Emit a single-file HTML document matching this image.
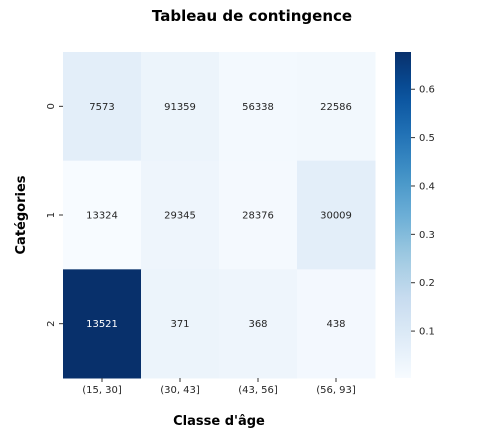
<!DOCTYPE html>
<html><head><meta charset="utf-8"><style>
body{margin:0;background:#fff;font-family:"Liberation Sans","DejaVu Sans",sans-serif}
svg text{font-family:"DejaVu Sans","Liberation Sans",sans-serif}
</style></head><body>
<svg id="chart" width="504" height="432">
<text x="252" y="21" text-anchor="middle" font-size="15" font-weight="bold" fill="#000">Tableau de contingence</text>
<text x="219" y="425" text-anchor="middle" font-size="13" font-weight="bold" fill="#000">Classe d'âge</text>
<text transform="translate(25,215) rotate(-90)" text-anchor="middle" font-size="13" font-weight="bold" fill="#000">Catégories</text>
<g id="cells"></g>
<g id="ticks"></g>
<defs><linearGradient id="cbgrad" x1="0" y1="1" x2="0" y2="0"></linearGradient></defs>
<rect x="395" y="52" width="16" height="326" fill="url(#cbgrad)"/>
</svg>
<script>
const rowLabels=["0","1","2"];
const colLabels=["(15, 30]","(30, 43]","(43, 56]","(56, 93]"];
const counts=[[7573,91359,56338,22586],[13324,29345,28376,30009],[13521,371,368,438]];
const shares=[[0.07,0.04,0.015,0.02],[0.004,0.035,0.013,0.07],[0.677,0.04,0.035,0.018]];
const cbTicks=[0.1,0.2,0.3,0.4,0.5,0.6];
const vmin=0.003,vmax=0.677;
const blues=["#f7fbff","#deebf7","#c6dbef","#9ecae1","#6baed6","#4292c6","#2171b5","#08519c","#08306b"];
function hex(c){return [1,3,5].map(i=>parseInt(c.substr(i,2),16));}
function cmap(t){t=Math.max(0,Math.min(1,t));const p=t*8,i=Math.min(7,Math.floor(p)),f=p-i;const a=hex(blues[i]),b=hex(blues[i+1]);return "rgb("+a.map((v,k)=>Math.round(v+(b[k]-v)*f)).join(",")+")";}
const X0=63,Y0=52,W=312,H=326,cw=W/colLabels.length,ch=H/rowLabels.length;
const xs=j=>X0+j*cw, ys=i=>Y0+i*ch;
const cbY=v=>Y0+H-(v-vmin)/(vmax-vmin)*H;
const NS="http://www.w3.org/2000/svg";
const cells=document.getElementById("cells"),ticks=document.getElementById("ticks");
function mk(tag,attrs,parent){const e=document.createElementNS(NS,tag);for(const k in attrs)e.setAttribute(k,attrs[k]);parent.appendChild(e);return e;}
rowLabels.forEach((r,i)=>{colLabels.forEach((c,j)=>{
 const t=(shares[i][j]-vmin)/(vmax-vmin);
 const rect=mk("rect",{x:xs(j),y:ys(i),width:cw+0.5,height:ch+0.5,fill:cmap(t)},cells);
 
 
 const tx=mk("text",{x:xs(j)+cw/2,y:ys(i)+ch/2+3.5,"text-anchor":"middle","font-size":"10",fill:t>0.5?"#fff":"#262626"},cells);
 tx.textContent=counts[i][j];
 
 
});
 mk("line",{x1:X0-4,x2:X0,y1:ys(i)+ch/2,y2:ys(i)+ch/2,stroke:"#333"},ticks);
 const yl=mk("text",{transform:"translate("+(X0-9)+","+(ys(i)+ch/2)+") rotate(-90)","text-anchor":"middle","font-size":"10",fill:"#262626"},ticks);
 yl.textContent=r;
 
 
});
colLabels.forEach((c,j)=>{
 mk("line",{x1:xs(j)+cw/2,x2:xs(j)+cw/2,y1:Y0+H,y2:Y0+H+4,stroke:"#333"},ticks);
 const xl=mk("text",{x:xs(j)+cw/2,y:Y0+H+15,"text-anchor":"middle","font-size":"10",fill:"#262626"},ticks);
 xl.textContent=c;
 
 
});
const g=document.getElementById("cbgrad");
for(let k=0;k<=20;k++){mk("stop",{offset:k/20,"stop-color":cmap(k/20)},g);}
cbTicks.forEach(v=>{
 mk("line",{x1:411,x2:415,y1:cbY(v),y2:cbY(v),stroke:"#333"},ticks);
 const cl=mk("text",{x:419,y:cbY(v)+3.5,"font-size":"10",fill:"#262626"},ticks);
 cl.textContent=v.toFixed(1);
 
 
});
</script>
</body></html>
